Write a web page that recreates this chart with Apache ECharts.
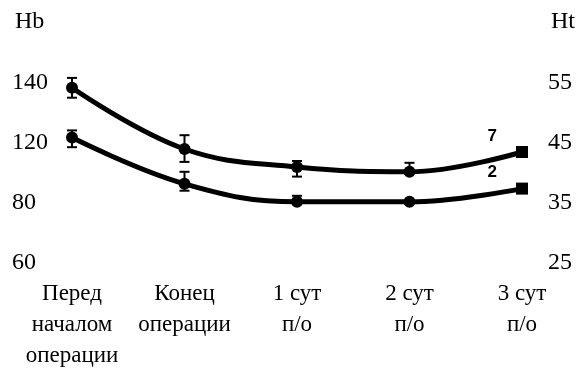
<!DOCTYPE html>
<html>
<head>
<meta charset="utf-8">
<script src="https://cdn.jsdelivr.net/npm/echarts@6/dist/echarts.min.js"></script>
<style>
html,body{margin:0;padding:0;background:#fff;}
#chart{width:582px;height:371px;}
</style>
</head>
<body>
<div id="chart"></div>
<script>
var categories = ['Перед\nначалом\nоперации', 'Конец\nоперации', '1 сут\nп/о', '2 сут\nп/о', '3 сут\nп/о'];
var hbTicks = ['60', '80', '120', '140'];
var htTicks = ['25', '35', '45', '55'];
var line1 = [54.2, 44.0, 41.0, 40.2, 43.5];
var line2 = [45.9, 38.2, 35.2, 35.2, 37.4];
var err1Up = [1.65, 2.3, 1.0, 1.5, 0];
var err1Down = [1.65, 2.15, 1.6, 0, 0];
var err2Up = [1.2, 2.0, 1.0, 0, 0];
var err2Down = [1.6, 1.15, 0, 0, 0];
var seriesNames = ['7', '2'];

var font = '"Liberation Serif", "Times New Roman", serif';

function errData(vals, up, down) {
  return vals.map(function (v, i) { return [i, v - down[i], v + up[i]]; });
}
function errRender(params, api) {
  var x = api.value(0);
  var lo = api.coord([x, api.value(1)]);
  var hi = api.coord([x, api.value(2)]);
  var mid = api.coord([x, (api.value(1) + api.value(2)) / 2]);
  var w = 5;
  var style = { stroke: '#000', lineWidth: 2 };
  var children = [];
  if (Math.abs(hi[1] - lo[1]) < 1) return { type: 'group', children: [] };
  children.push({ type: 'line', shape: { x1: hi[0], y1: hi[1], x2: lo[0], y2: lo[1] }, style: style });
  children.push({ type: 'line', shape: { x1: hi[0] - w, y1: hi[1], x2: hi[0] + w, y2: hi[1] }, style: style });
  children.push({ type: 'line', shape: { x1: lo[0] - w, y1: lo[1], x2: lo[0] + w, y2: lo[1] }, style: style });
  return { type: 'group', children: children };
}
function lineData(vals, name) {
  return vals.map(function (v, i) {
    var d = { value: v };
    if (i === vals.length - 1) {
      d.symbol = 'rect';
      d.symbolSize = 12;
      d.label = {
        show: true, formatter: name, position: 'left',
        offset: [-14, -16], fontSize: 17, fontWeight: 'bold',
        fontFamily: 'Liberation Sans, Arial, sans-serif', color: '#000'
      };
    }
    return d;
  });
}

var chart = echarts.init(document.getElementById('chart'), null, { renderer: 'canvas' });
chart.setOption({
  animation: false,
  backgroundColor: '#fff',
  title: [
    { text: 'Hb', left: 10, top: 5, textStyle: { fontFamily: font, fontSize: 24, fontWeight: 'normal', color: '#000' } },
    { text: 'Ht', left: 546, top: 5, textStyle: { fontFamily: font, fontSize: 24, fontWeight: 'normal', color: '#000' } }
  ],
  grid: { left: 72, right: 60, top: 83, bottom: 106, containLabel: false },
  xAxis: {
    type: 'category',
    data: categories,
    boundaryGap: false,
    axisLine: { show: false },
    axisTick: { show: false },
    axisLabel: {
      margin: 15, interval: 0, fontFamily: font, fontSize: 23, color: '#000', lineHeight: 31,
      align: 'center'
    }
  },
  yAxis: [
    {
      type: 'value', min: 25, max: 55, interval: 10, position: 'left',
      axisLine: { show: false }, axisTick: { show: false }, splitLine: { show: false },
      axisLabel: {
        margin: 60, align: 'left', fontFamily: font, fontSize: 24, color: '#000',
        formatter: function (v) { return hbTicks[Math.round((v - 25) / 10)]; }
      }
    },
    {
      type: 'value', min: 25, max: 55, interval: 10, position: 'right',
      axisLine: { show: false }, axisTick: { show: false }, splitLine: { show: false },
      axisLabel: {
        margin: 26, align: 'left', fontFamily: font, fontSize: 24, color: '#000',
        formatter: function (v) { return htTicks[Math.round((v - 25) / 10)]; }
      }
    }
  ],
  series: [
    {
      type: 'line', name: seriesNames[0], yAxisIndex: 1, smooth: 0.4,
      data: lineData(line1, seriesNames[0]),
      symbol: 'circle', symbolSize: 12,
      lineStyle: { color: '#000', width: 5 },
      itemStyle: { color: '#000' }
    },
    {
      type: 'line', name: seriesNames[1], yAxisIndex: 1, smooth: 0.4,
      data: lineData(line2, seriesNames[1]),
      symbol: 'circle', symbolSize: 12,
      lineStyle: { color: '#000', width: 5 },
      itemStyle: { color: '#000' }
    },
    {
      type: 'custom', yAxisIndex: 1, renderItem: errRender,
      data: errData(line1, err1Up, err1Down), z: 5
    },
    {
      type: 'custom', yAxisIndex: 1, renderItem: errRender,
      data: errData(line2, err2Up, err2Down), z: 5
    }
  ]
});
</script>
</body>
</html>
